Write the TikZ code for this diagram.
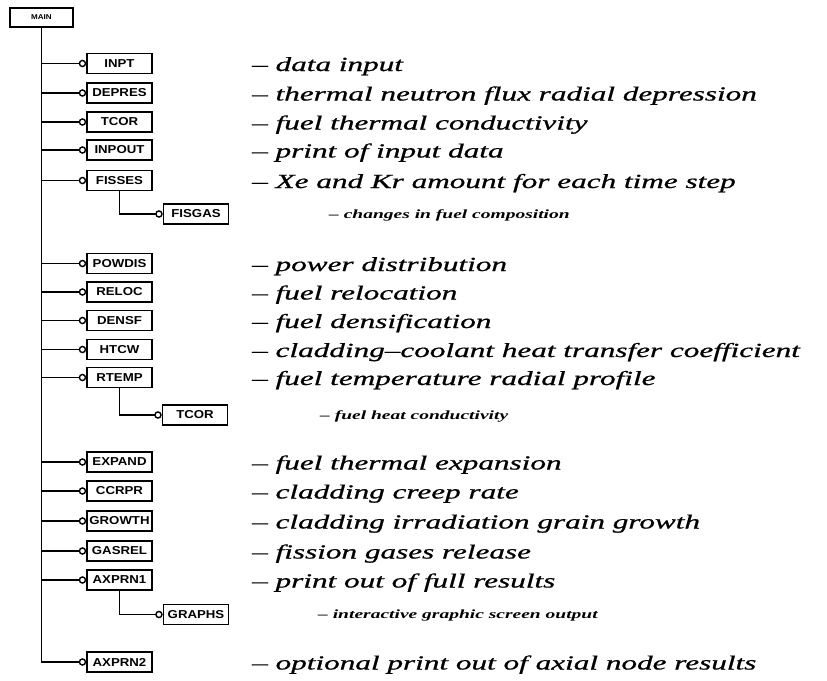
\documentclass[tikz,border=0pt]{standalone}
\usepackage{fontspec}
\usepackage{tikz}
\usetikzlibrary{arrows.meta,positioning}
\newfontfamily\descfont[FakeStretch=1.56,FakeBold=0.8]{Liberation Serif}
\newfontfamily\subfont[FakeStretch=1.56]{Liberation Serif}
\newfontfamily\boxfont[FakeStretch=1.15]{Liberation Sans}

\begin{document}
\begin{tikzpicture}[x=1pt, y=-1pt,
    prog/.style={rectangle, draw, line width=1.6pt, minimum width=65pt,
        minimum height=20pt, inner sep=0pt,
        font=\fontsize{11.5}{12}\boxfont\bfseries},
    desc/.style={anchor=base west, inner sep=0pt,
        font=\fontsize{20}{24}\descfont\itshape},
    subdesc/.style={anchor=base west, inner sep=0pt,
        font=\fontsize{12.5}{15}\subfont\bfseries\itshape},
    arr/.style={-{Circle[open, length=7.5pt]}, line width=1.4pt}
]
    \useasboundingbox (0,0) rectangle (827,680);

    \node[prog, minimum width=63pt, minimum height=19pt, font=\fontsize{7}{8}\boxfont\bfseries] (main) at (41.5,17.5) {MAIN};

    \node[prog] (inpt)   at (119.5,63.5)  {INPT};
    \node[prog] (depres) at (119.5,93)    {DEPRES};
    \node[prog] (tcor)   at (119.5,122)   {TCOR};
    \node[prog] (inpout) at (119.5,150)   {INPOUT};
    \node[prog] (fisses) at (119.5,180.5) {FISSES};
    \node[prog] (fisgas) at (196,214)     {FISGAS};
    \node[prog] (powdis) at (119.5,263.5) {POWDIS};
    \node[prog] (reloc)  at (119.5,292)   {RELOC};
    \node[prog] (densf)  at (119.5,320.5) {DENSF};
    \node[prog] (htcw)   at (119.5,349.5) {HTCW};
    \node[prog] (rtemp)  at (119.5,377.5) {RTEMP};
    \node[prog] (tcorb)  at (195,415)     {TCOR};
    \node[prog] (expand) at (119.5,462)   {EXPAND};
    \node[prog] (ccrpr)  at (119.5,491)   {CCRPR};
    \node[prog] (growth) at (119.5,521)   {GROWTH};
    \node[prog] (gasrel) at (119.5,551)   {GASREL};
    \node[prog] (axprnA) at (119.5,580)   {AXPRN1};
    \node[prog] (graphs) at (196,614.5)   {GRAPHS};
    \node[prog] (axprnB) at (119.5,662)   {AXPRN2};

    % descriptions
    \node[desc] (d1)  at (252,71)    {– data input};
    \node[desc] (d2)  at (252,100.5) {– thermal neutron flux radial depression};
    \node[desc] (d3)  at (252,129.5) {– fuel thermal conductivity};
    \node[desc] (d4)  at (252,157.5) {– print of input data};
    \node[desc] (d5)  at (252,188)   {– Xe and Kr amount for each time step};
    \node[subdesc] (s1) at (329,218) {– changes in fuel composition};
    \node[desc] (d6)  at (252,271)   {– power distribution};
    \node[desc] (d7)  at (252,299.5) {– fuel relocation};
    \node[desc] (d8)  at (252,328)   {– fuel densification};
    \node[desc] (d9)  at (252,357)   {– cladding–coolant heat transfer coefficient};
    \node[desc] (d10) at (252,385)   {– fuel temperature radial profile};
    \node[subdesc] (s2) at (320,419) {– fuel heat conductivity};
    \node[desc] (d11) at (252,469.5) {– fuel thermal expansion};
    \node[desc] (d12) at (252,498.5) {– cladding creep rate};
    \node[desc] (d13) at (252,528.5) {– cladding irradiation grain growth};
    \node[desc] (d14) at (252,558.5) {– fission gases release};
    \node[desc] (d15) at (252,587.5) {– print out of full results};
    \node[subdesc] (s3) at (318,618.5) {– interactive graphic screen output};
    \node[desc] (d16) at (252,669.5) {– optional print out of axial node results};

    % calls from MAIN
    \draw[arr] (main.south) |- (axprnB);
    \draw[arr] (main.south |- inpt) -- (inpt);
    \draw[arr] (main.south |- depres) -- (depres);
    \draw[arr] (main.south |- tcor) -- (tcor);
    \draw[arr] (main.south |- inpout) -- (inpout);
    \draw[arr] (main.south |- fisses) -- (fisses);
    \draw[arr] (main.south |- powdis) -- (powdis);
    \draw[arr] (main.south |- reloc) -- (reloc);
    \draw[arr] (main.south |- densf) -- (densf);
    \draw[arr] (main.south |- htcw) -- (htcw);
    \draw[arr] (main.south |- rtemp) -- (rtemp);
    \draw[arr] (main.south |- expand) -- (expand);
    \draw[arr] (main.south |- ccrpr) -- (ccrpr);
    \draw[arr] (main.south |- growth) -- (growth);
    \draw[arr] (main.south |- gasrel) -- (gasrel);
    \draw[arr] (main.south |- axprnA) -- (axprnA);

    % second level calls
    \draw[arr] (fisses.south) |- (fisgas);
    \draw[arr] (rtemp.south) |- (tcorb);
    \draw[arr] (axprnA.south) |- (graphs);
\end{tikzpicture}
\end{document}
